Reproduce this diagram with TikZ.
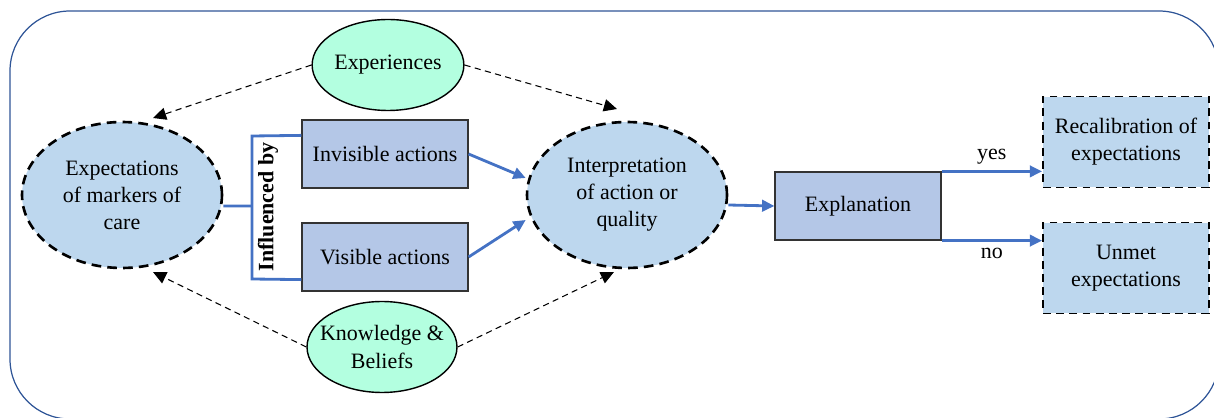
\documentclass[tikz,border=0pt]{standalone}
\usepackage{fontspec}
\setmainfont{Liberation Serif}
\usetikzlibrary{shapes.geometric,arrows.meta}
\definecolor{lineblue}{HTML}{4472C4}
\definecolor{frameblue}{HTML}{2F5597}
\definecolor{ovalblue}{HTML}{BDD7EE}
\definecolor{boxblue}{HTML}{B4C7E7}
\definecolor{mint}{HTML}{B3FFE0}
\tikzset{
        stage/.style={shape=ellipse, draw=black, line width=1.5pt, dash pattern=on 5.5pt off 3.5pt, fill=ovalblue, minimum width=4cm, minimum height=2.92cm, inner sep=0pt, align=center},
        source/.style={shape=ellipse, draw=black, line width=0.8pt, fill=mint, minimum width=3cm, minimum height=1.82cm, inner sep=0pt, align=center},
        action/.style={shape=rectangle, draw=black!80, line width=0.7pt, fill=boxblue, minimum width=3.32cm, minimum height=1.36cm},
        outcome/.style={shape=rectangle, draw=black, line width=1.1pt, dash pattern=on 4.5pt off 3pt, fill=ovalblue, minimum width=3.32cm, minimum height=1.82cm, align=center},
        link/.style={draw=lineblue, line width=1.6pt, -{Triangle[length=7pt, width=6.5pt]}},
        bracket/.style={draw=lineblue, line width=1.6pt},
        cue/.style={draw=black, line width=0.6pt, dash pattern=on 3.5pt off 2.5pt, -{Triangle[length=7.5pt, width=7pt]}}
}
\begin{document}
\begin{tikzpicture}[x=0.02cm, y=-0.02cm, font=\fontsize{12.5}{15.4}\selectfont]
        \useasboundingbox (0, 0) rectangle (1214, 418);
        \draw[frameblue, line width=0.7pt, rounded corners=1.2cm] (10, 11) rectangle (1219, 419);
        \node[source] (E) at (388, 65) {Experiences};
        \node[source, inner xsep=-6pt] (K) at (382, 347) {Knowledge \&\\Beliefs};
        \node[stage] (M) at (122, 195) {Expectations\\of markers of\\care};
        \node[stage] (I) at (627, 195) {Interpretation\\of action or\\quality};
        \node[action] (IA) at (385, 154) {Invisible actions};
        \node[action] (VA) at (385, 257) {Visible actions};
        \node[action] (X) at (858, 206) {Explanation};
        \node[outcome] (R) at (1126, 142) {Recalibration of\\expectations};
        \node[outcome] (U) at (1126, 268) {Unmet\\expectations};
        \node[rotate=90, font=\fontsize{12.5}{15.4}\selectfont\bfseries] (F) at (268, 207) {Influenced by};
        \coordinate (Btop) at (252, 136);
        \coordinate (Bmid) at (252, 206);
        \coordinate (Bbot) at (252, 279);
        \coordinate (Ma) at (153, 118);
        \coordinate (Mb) at (153, 272);
        \coordinate (Ia) at (617, 109);
        \coordinate (Ib) at (614, 272);
        \draw[bracket] ([yshift=-0.32cm]IA.north west) -- (Btop) -- (Bbot) -- ([yshift=0.24cm]VA.south west);
        \draw[bracket] ([yshift=-0.22cm]M.east) -- (Bmid);
        \draw[link] (IA.east) -- (I.west |- 0, 178);
        \draw[link] (VA.east) -- (I.west |- 0, 220);
        \draw[link] ([yshift=-0.2cm]I.east) -- (X.west);
        \draw[link] (X.north east) -- (R.west |- X.north) node[midway, above] (yes) {yes};
        \draw[link] (X.south east) -- (U.west |- X.south) node[midway, below] (no) {no};
        \draw[cue] (E.west) -- (Ma);
        \draw[cue] (E.east) -- (Ia);
        \draw[cue] (K.west) -- (Mb);
        \draw[cue] (K.east) -- (Ib);
    \end{tikzpicture}
\end{document}
